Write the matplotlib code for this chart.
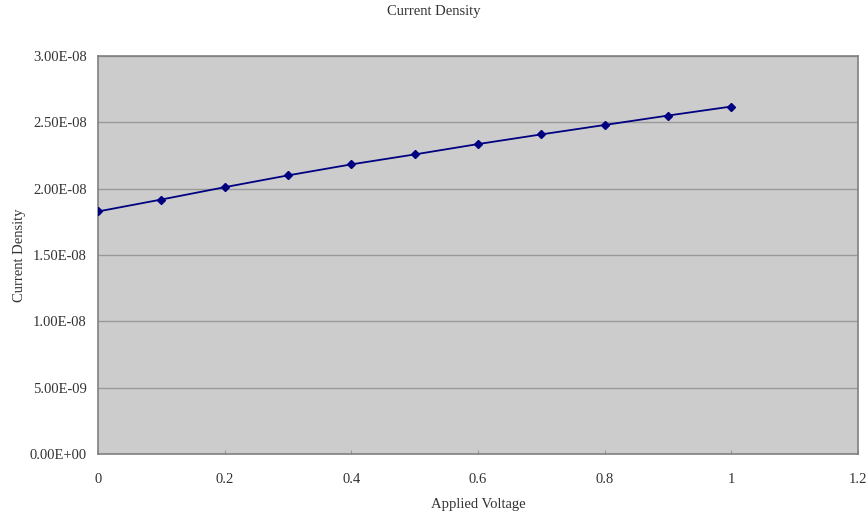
import numpy as np
import matplotlib.pyplot as plt
from matplotlib.ticker import FixedLocator

voltage = [0, 0.1, 0.2, 0.3, 0.4, 0.5, 0.6, 0.7, 0.8, 0.9, 1.0]
density = [1.828e-8, 1.918e-8, 2.011e-8, 2.100e-8, 2.183e-8, 2.258e-8,
           2.336e-8, 2.409e-8, 2.480e-8, 2.551e-8, 2.619e-8]

y_ticks = [0, 5e-9, 1e-8, 1.5e-8, 2e-8, 2.5e-8, 3e-8]
y_labels = ['0.00E+00', '5.00E-09', '1.00E-08', '1.50E-08', '2.00E-08', '2.50E-08', '3.00E-08']
x_ticks = [0, 0.2, 0.4, 0.6, 0.8, 1, 1.2]
x_labels = ['0', '0.2', '0.4', '0.6', '0.8', '1', '1.2']

plt.rcParams['font.family'] = ['Liberation Serif', 'DejaVu Serif']
fs = 10.5

fig = plt.figure(figsize=(8.68, 5.17), dpi=100)
ax = fig.add_axes([0.1129, 0.1219, 0.8756, 0.7698])
ax.set_facecolor('#cccccc')

ax.plot(voltage, density, color='#000080', lw=1.3, marker='D', ms=4.5,
        mfc='#000080', mec='#000080', zorder=3)

ax.set_xlim(0, 1.2)
ax.set_ylim(0, 3e-8)
ax.xaxis.set_major_locator(FixedLocator(x_ticks))
ax.yaxis.set_major_locator(FixedLocator(y_ticks))
ax.set_xticklabels(x_labels, fontsize=fs, color='#333333')
ax.set_yticklabels(y_labels, fontsize=fs, color='#333333')
ax.tick_params(axis='x', direction='in', length=3, color='#999999', pad=14)
ax.tick_params(axis='y', direction='in', length=0, pad=8)

ax.yaxis.grid(True, color='#999999', lw=1)
ax.set_axisbelow(True)
for s in ax.spines.values():
    s.set_color('#808080')
    s.set_linewidth(1.2)

ax.set_xlabel('Applied Voltage', fontsize=fs, color='#333333', labelpad=8)
ax.set_ylabel('Current Density', fontsize=fs, color='#333333', labelpad=3)
fig.text(0.5, 1 - 12 / 517, 'Current Density', fontsize=fs, color='#333333',
         ha='center', va='center')

fig.savefig('out.png', dpi=100)
